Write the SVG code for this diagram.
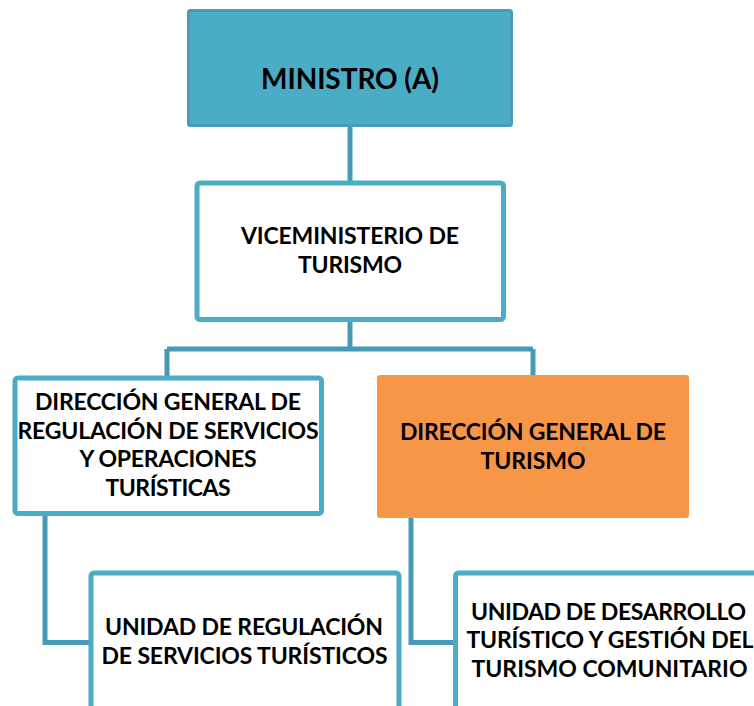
<svg xmlns="http://www.w3.org/2000/svg" width="754" height="706" viewBox="0 0 754 706">
<style>
text{font-family:Lato,"Open Sans","Liberation Sans",sans-serif;font-weight:bold;font-size:23px;fill:#000;text-anchor:middle}
text.big{font-size:28px}
.box{fill:#fff;stroke:#4BACC6;stroke-width:5}
.conn{fill:none;stroke:#459BB5;stroke-width:5}
</style>
<rect width="754" height="706" fill="#fff"/>
<g id="connectors">
<path class="conn" d="M350 126V182"/>
<path class="conn" d="M350 321V349M167 349H533M167 349V377M533 349V376"/>
<path class="conn" d="M45 515V642.5H91"/>
<path class="conn" d="M411 517V642.5H456"/>
</g>
<g id="ministro">
<rect x="188.5" y="10.5" width="323" height="115" rx="2" fill="#4BACC6" stroke="#4A9CB6" stroke-width="3"/>
<text class="big" x="350" y="89" textLength="178">MINISTRO (A)</text>
</g>
<g id="viceministerio">
<rect class="box" x="197" y="183" width="306.5" height="136.5" rx="3"/>
<text x="350" y="244" textLength="218">VICEMINISTERIO DE</text>
<text x="350" y="273" textLength="104">TURISMO</text>
</g>
<g id="dg-regulacion">
<rect class="box" x="15" y="378" width="306.5" height="135.5" rx="3"/>
<text x="168" y="410" textLength="266">DIRECCIÓN GENERAL DE</text>
<text x="168" y="439" textLength="301">REGULACIÓN DE SERVICIOS</text>
<text x="168" y="467" textLength="177">Y OPERACIONES</text>
<text x="168" y="496" textLength="125">TURÍSTICAS</text>
</g>
<g id="dg-turismo">
<rect x="377" y="375" width="312" height="143" rx="3" fill="#F79646"/>
<text x="533" y="440" textLength="266">DIRECCIÓN GENERAL DE</text>
<text x="533" y="469" textLength="105">TURISMO</text>
</g>
<g id="unidad-regulacion">
<rect class="box" x="91" y="573" width="308" height="200" rx="3"/>
<text x="244" y="635" textLength="278">UNIDAD DE REGULACIÓN</text>
<text x="244.5" y="664" textLength="286">DE SERVICIOS TURÍSTICOS</text>
</g>
<g id="unidad-desarrollo">
<rect class="box" x="455.5" y="573" width="308" height="200" rx="3"/>
<text x="608.5" y="620" textLength="275">UNIDAD DE DESARROLLO</text>
<text x="610" y="648" textLength="287">TURÍSTICO Y GESTIÓN DEL</text>
<text x="609.5" y="677" textLength="276">TURISMO COMUNITARIO</text>
</g>
</svg>
